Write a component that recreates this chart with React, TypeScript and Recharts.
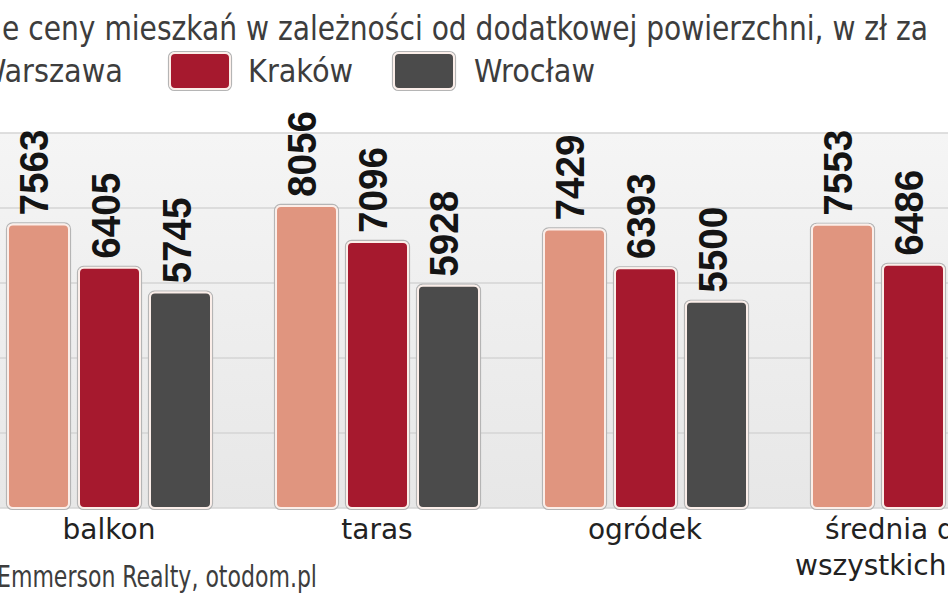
import React from 'react';
import { BarChart, Bar, XAxis, YAxis, CartesianGrid } from 'recharts';

const categories = ['balkon', 'taras', 'ogródek', 'średnia dla wszystkich'];
const tickLines = [['balkon'], ['taras'], ['ogródek'], ['średnia dla', 'wszystkich']];
const warszawa = [7563, 8056, 7429, 7553];
const krakow = [6405, 7096, 6393, 6486];
const wroclaw = [5745, 5928, 5500, 5610]; // last one is off the picture, estimated
const yTicks = [2000, 4000, 6000, 8000];

const series = [
  { key: 'warszawa', name: 'Warszawa', color: '#e0957f' },
  { key: 'krakow', name: 'Kraków', color: '#a6192e' },
  { key: 'wroclaw', name: 'Wrocław', color: '#4b4b4b' },
];

const data = categories.map((c, i) => ({
  name: c,
  warszawa: warszawa[i],
  krakow: krakow[i],
  wroclaw: wroclaw[i],
}));

const FONT = "'DejaVu Sans Condensed', 'DejaVu Sans', sans-serif";

const BarShape = (props: any) => {
  const { x, y, width, height, fill } = props;
  if (!height || height <= 0) return null;
  return (
    <g>
      <rect x={x - 1.5} y={y - 1.5} width={width + 3} height={height + 3} rx={6}
        fill="none" stroke="#b5b5b5" strokeWidth={1.2} />
      <rect x={x} y={y} width={width} height={height} rx={5}
        fill={fill} stroke="#fbeee9" strokeWidth={2} />
    </g>
  );
};

const renderValue = (props: any) => {
  const { x, y, width, value } = props;
  const bx = Number(x) + Number(width) / 2 + 10;
  const by = Number(y) - 9;
  return (
    <text x={bx} y={by} transform={`rotate(-90 ${bx} ${by})`} textAnchor="start"
      fontFamily="'Liberation Sans', Arial, sans-serif" fontWeight="bold" fontSize={40}
      textLength={86} lengthAdjust="spacingAndGlyphs" fill="#141414">
      {value}
    </text>
  );
};

const CategoryTick = (props: any) => {
  const { x, y, payload } = props;
  const idx = categories.indexOf(payload.value);
  const lines = tickLines[idx] || [payload.value];
  if (lines.length === 1) {
    return (
      <text x={x} y={y + 31} textAnchor="middle" fontFamily="'DejaVu Sans', sans-serif"
        fontSize={28} fill="#222">{lines[0]}</text>
    );
  }
  // wrapped label, left edges as in the print
  const dx = [-88, -118];
  return (
    <g>
      {lines.map((l: string, i: number) => (
        <text key={i} x={x + dx[i]} y={y + 31 + i * 36} textAnchor="start"
          fontFamily="'DejaVu Sans', sans-serif" fontSize={28} fill="#222">{l}</text>
      ))}
    </g>
  );
};

const legendPos = [
  { sx: -100, tx: -22 },
  { sx: 170, tx: 248 },
  { sx: 394, tx: 474 },
];

const App: React.FC = () => (
  <div style={{ position: 'absolute', left: 0, top: 0, width: 948, height: 593, overflow: 'hidden', background: '#fff' }}>
    <svg width={948} height={130} style={{ position: 'absolute', left: 0, top: 0 }}>
      <text x={2} y={40} fontFamily={FONT} fontSize={33} fill="#3d3d3d"
        textLength={926} lengthAdjust="spacingAndGlyphs">
        e ceny mieszkań w zależności od dodatkowej powierzchni, w zł za
      </text>
      {series.map((s, i) => (
        <g key={s.key}>
          <rect x={legendPos[i].sx - 1.5} y={51.5} width={63} height={39} rx={6}
            fill="none" stroke="#b5b5b5" strokeWidth={1.2} />
          <rect x={legendPos[i].sx} y={53} width={60} height={36} rx={5}
            fill={s.color} stroke="#fbeee9" strokeWidth={2} />
          <text x={legendPos[i].tx} y={82} fontFamily={FONT} fontSize={32} fill="#3d3d3d">{s.name}</text>
        </g>
      ))}
    </svg>

    <div style={{ position: 'absolute', left: -25, top: 0 }}>
      <BarChart width={1072} height={598} data={data} barSize={61} barGap={10}
        margin={{ top: 133, right: 0, bottom: 0, left: 0 }}>
        <defs>
          <linearGradient id="bgGrad" x1="0" y1="0" x2="0" y2="1">
            <stop offset="0%" stopColor="#f5f5f5" />
            <stop offset="100%" stopColor="#e7e7e7" />
          </linearGradient>
        </defs>
        <CartesianGrid vertical={false} fill="url(#bgGrad)" stroke="#d4d4d4" strokeWidth={1.5} />
        <XAxis dataKey="name" height={90} axisLine={false} tickLine={false} tickSize={0}
          tickMargin={0} interval={0} tick={<CategoryTick />} />
        <YAxis hide domain={[0, 10000]} ticks={yTicks} />
        {series.map((s) => (
          <Bar key={s.key} dataKey={s.key} name={s.name} fill={s.color}
            shape={<BarShape />} label={renderValue} isAnimationActive={false} />
        ))}
      </BarChart>
    </div>

    <svg width={948} height={60} style={{ position: 'absolute', left: 0, top: 540 }}>
      <text x={-3} y={47} fontFamily={FONT} fontSize={30} fill="#3d3d3d"
        textLength={320} lengthAdjust="spacingAndGlyphs">
        Emmerson Realty, otodom.pl
      </text>
    </svg>
  </div>
);

export default App;
